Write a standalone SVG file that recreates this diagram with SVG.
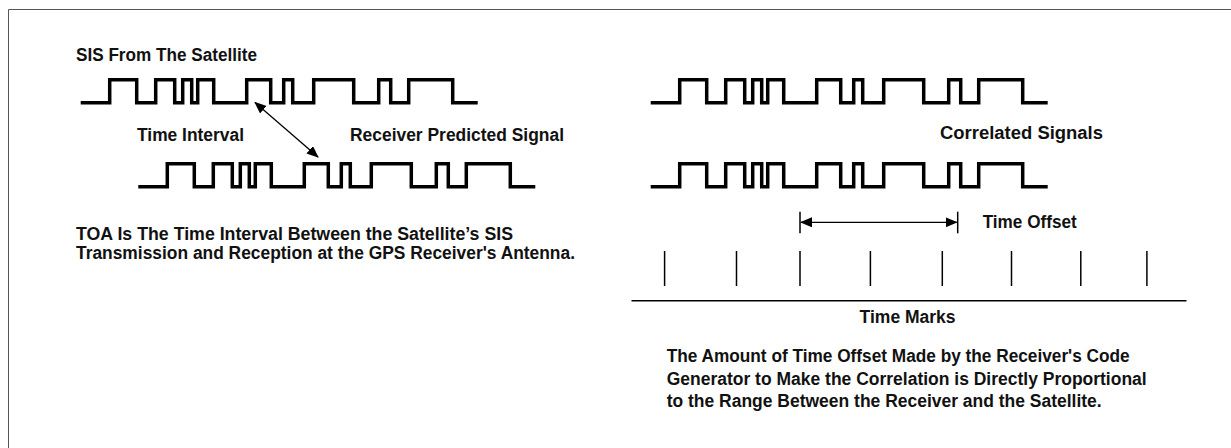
<svg xmlns="http://www.w3.org/2000/svg" xmlns:xlink="http://www.w3.org/1999/xlink" width="1231" height="448" viewBox="0 0 1231 448">
<style>
.t{font-family:"Liberation Sans",Arial,sans-serif;font-weight:bold;font-size:17.5px;fill:#111}
.wave{fill:none;stroke:#000;stroke-width:3.5;stroke-linejoin:miter;stroke-linecap:butt}
.thin{stroke:#000;stroke-width:1.5;fill:none}
</style>
<defs>
<path id="wf" class="wave" d="M0,0 H29 V-23 H56 V0 H75 V-23 H94 V0 H102 V-23 H111 V0 H117 V-23 H133 V0 H166 V-23 H190 V0 H203 V-23 H212 V0 H233 V-23 H273 V0 H298 V-23 H310 V0 H328 V-23 H372 V0 H397"/>
<marker id="ah" viewBox="0 0 12 10" refX="11" refY="5" markerWidth="12" markerHeight="10" markerUnits="userSpaceOnUse" orient="auto-start-reverse">
<path d="M0,0 L12,5 L0,10 Z" fill="#000"/>
</marker>
</defs>
<path d="M8.5,448 V9.5 H1231" fill="none" stroke="#555" stroke-width="1"/>
<g id="sis-signal">
<use xlink:href="#wf" href="#wf" x="80.7" y="102.7"/>
<text class="t" x="76" y="61" textLength="181" lengthAdjust="spacingAndGlyphs">SIS From The Satellite</text>
</g>
<g id="predicted-signal">
<use xlink:href="#wf" href="#wf" x="138.3" y="186.7"/>
<text class="t" x="350" y="141" textLength="214" lengthAdjust="spacingAndGlyphs">Receiver Predicted Signal</text>
</g>
<g id="time-interval-label">
<text class="t" x="137" y="141" textLength="107" lengthAdjust="spacingAndGlyphs">Time Interval</text>
</g>
<g id="toa-caption">
<text class="t" x="76" y="240" textLength="437" lengthAdjust="spacingAndGlyphs">TOA Is The Time Interval Between the Satellite’s SIS</text>
<text class="t" x="76" y="259" textLength="499" lengthAdjust="spacingAndGlyphs">Transmission and Reception at the GPS Receiver's Antenna.</text>
</g>
<g id="correlated-signals">
<use xlink:href="#wf" href="#wf" x="650.7" y="102.7"/>
<use xlink:href="#wf" href="#wf" x="650.7" y="186.7"/>
<text class="t" x="940" y="138.5" textLength="163" lengthAdjust="spacingAndGlyphs">Correlated Signals</text>
</g>
<g id="time-offset">
<line class="thin" x1="800" y1="211.7" x2="800" y2="233.3" stroke-width="1.2"/>
<line class="thin" x1="957.7" y1="211.7" x2="957.7" y2="233.3" stroke-width="1.2"/>
<text class="t" x="982.7" y="227.5" textLength="94" lengthAdjust="spacingAndGlyphs">Time Offset</text>
</g>
<g id="time-marks">
<line class="thin" x1="664.6" y1="251" x2="664.6" y2="286"/>
<line class="thin" x1="736.5" y1="251" x2="736.5" y2="286"/>
<line class="thin" x1="800" y1="251" x2="800" y2="286"/>
<line class="thin" x1="870.4" y1="251" x2="870.4" y2="286"/>
<line class="thin" x1="942.3" y1="251" x2="942.3" y2="286"/>
<line class="thin" x1="1011.5" y1="251" x2="1011.5" y2="286"/>
<line class="thin" x1="1080.8" y1="251" x2="1080.8" y2="286"/>
<line class="thin" x1="1146.9" y1="251" x2="1146.9" y2="286"/>
<line class="thin" x1="631.5" y1="300.7" x2="1186.5" y2="300.7"/>
<text class="t" x="859.6" y="322.5" textLength="96" lengthAdjust="spacingAndGlyphs">Time Marks</text>
</g>
<g id="offset-caption">
<text class="t" x="666.7" y="362" textLength="463" lengthAdjust="spacingAndGlyphs">The Amount of Time Offset Made by the Receiver's Code</text>
<text class="t" x="666.7" y="384.5" textLength="480" lengthAdjust="spacingAndGlyphs">Generator to Make the Correlation is Directly Proportional</text>
<text class="t" x="666.7" y="407" textLength="435" lengthAdjust="spacingAndGlyphs">to the Range Between the Receiver and the Satellite.</text>
</g>
<g id="connectors">
<line x1="255" y1="102.5" x2="318" y2="157" stroke="#000" stroke-width="1.3" marker-start="url(#ah)" marker-end="url(#ah)"/>
<line x1="801" y1="222.3" x2="956.7" y2="222.3" stroke="#000" stroke-width="1.3" marker-start="url(#ah)" marker-end="url(#ah)"/>
</g>
</svg>
